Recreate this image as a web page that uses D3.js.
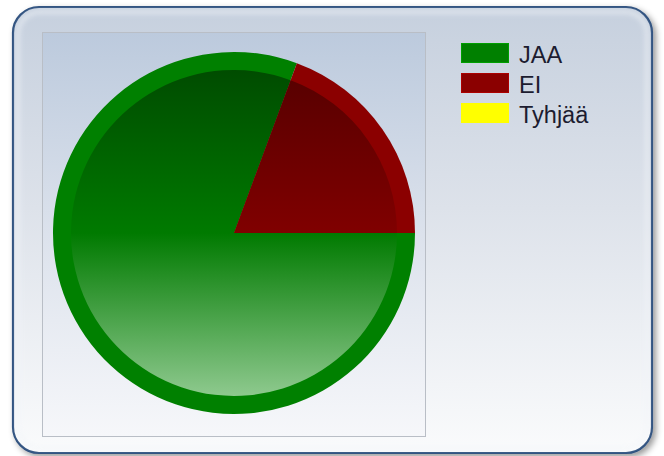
<!DOCTYPE html>
<html>
<head>
<meta charset="utf-8">
<script src="https://cdn.jsdelivr.net/npm/d3@7"></script>
<style>
  body { margin: 0; background: #fff; }
  svg { display: block; font-family: "Liberation Sans", Arial, sans-serif; }
</style>
</head>
<body>
<div id="chart"></div>
<script>
const width = 664;
const height = 456;

// Data
const categories = ["JAA", "EI", "Tyhjää"];
const votes = [25, 6, 0];
const colors = ["#008000", "#8b0000", "#ffff00"];
const topColors = ["#004c00", "#560000", "#b0b000"];
const midColors = ["#007a00", "#800000", "#e0e000"];
const bottomColors = ["#8ec98e", "#c06060", "#ffff90"];

const svg = d3
  .select("#chart")
  .append("svg")
  .attr("width", width)
  .attr("height", height);

const defs = svg.append("defs");

// panel background gradient
const panelGrad = defs
  .append("linearGradient")
  .attr("id", "panelGrad")
  .attr("x1", 0).attr("y1", 0).attr("x2", 0).attr("y2", 1);
panelGrad.append("stop").attr("offset", "0%").attr("stop-color", "#c6d0de");
panelGrad.append("stop").attr("offset", "45%").attr("stop-color", "#dde2ea");
panelGrad.append("stop").attr("offset", "100%").attr("stop-color", "#fafbfc");

const plotGrad = defs
  .append("linearGradient")
  .attr("id", "plotGrad")
  .attr("x1", 0).attr("y1", 0).attr("x2", 0).attr("y2", 1);
plotGrad.append("stop").attr("offset", "0%").attr("stop-color", "#bccadd");
plotGrad.append("stop").attr("offset", "50%").attr("stop-color", "#dce2ec");
plotGrad.append("stop").attr("offset", "100%").attr("stop-color", "#f6f7fa");

const shadow = defs.append("filter").attr("id", "shadow")
  .attr("x", "-5%").attr("y", "-5%").attr("width", "115%").attr("height", "115%");
shadow.append("feDropShadow")
  .attr("dx", 3).attr("dy", 3).attr("stdDeviation", 3)
  .attr("flood-color", "#000").attr("flood-opacity", 0.4);

const glow = defs.append("filter").attr("id", "glow");
glow.append("feGaussianBlur").attr("stdDeviation", 2.5);

// Outer panel
svg
  .append("rect")
  .attr("x", 13)
  .attr("y", 7)
  .attr("width", 639)
  .attr("height", 446)
  .attr("rx", 26)
  .attr("fill", "url(#panelGrad)")
  .attr("stroke", "#2c4e7c")
  .attr("stroke-width", 2.2)
  .attr("filter", "url(#shadow)");

// soft inner highlight along the border
svg
  .append("rect")
  .attr("x", 18)
  .attr("y", 12)
  .attr("width", 629)
  .attr("height", 436)
  .attr("rx", 22)
  .attr("fill", "none")
  .attr("stroke", "#f2f5f9")
  .attr("stroke-width", 4)
  .attr("opacity", 0.6)
  .attr("filter", "url(#glow)");

// Plot area
const plot = { x: 42, y: 32, w: 383, h: 404 };
svg
  .append("rect")
  .attr("x", plot.x + 0.5)
  .attr("y", plot.y + 0.5)
  .attr("width", plot.w)
  .attr("height", plot.h)
  .attr("fill", "url(#plotGrad)")
  .attr("stroke", "#b9bec6")
  .attr("stroke-width", 1);

// Pie
const cx = 234;
const cy = 233;
const rOuter = 181;
const rInner = 163;

categories.forEach((c, i) => {
  const g = defs
    .append("linearGradient")
    .attr("id", `slice-${i}`)
    .attr("gradientUnits", "userSpaceOnUse")
    .attr("x1", 0).attr("y1", -rInner)
    .attr("x2", 0).attr("y2", rInner);
  g.append("stop").attr("offset", "0%").attr("stop-color", topColors[i]);
  g.append("stop").attr("offset", "50%").attr("stop-color", midColors[i]);
  g.append("stop").attr("offset", "100%").attr("stop-color", bottomColors[i]);
});

const pie = d3
  .pie()
  .sort(null)
  .value((d) => d)
  .startAngle(Math.PI / 2)
  .endAngle(Math.PI / 2 + 2 * Math.PI);

const arcs = pie(votes);
const outerArc = d3.arc().innerRadius(0).outerRadius(rOuter);
const innerArc = d3.arc().innerRadius(0).outerRadius(rInner);

const pieG = svg.append("g").attr("transform", `translate(${cx},${cy})`);

// solid rim
pieG
  .selectAll(".rim")
  .data(arcs)
  .enter()
  .append("path")
  .attr("class", "rim")
  .attr("d", outerArc)
  .attr("fill", (d, i) => colors[i]);

// shaded face
pieG
  .selectAll(".face")
  .data(arcs)
  .enter()
  .append("path")
  .attr("class", "face")
  .attr("d", innerArc)
  .attr("fill", (d, i) => `url(#slice-${i})`);

// Legend
const legend = svg.append("g").attr("transform", "translate(461,43)");
const item = legend
  .selectAll(".item")
  .data(categories)
  .enter()
  .append("g")
  .attr("class", "item")
  .attr("transform", (d, i) => `translate(0,${i * 30})`);

item
  .append("rect")
  .attr("x", 0.5)
  .attr("y", 0.5)
  .attr("width", 47)
  .attr("height", 19)
  .attr("fill", (d, i) => colors[i])
  .attr("stroke", (d, i) => d3.color(colors[i]).brighter(0.6))
  .attr("stroke-width", 1);

item
  .append("text")
  .attr("x", 58)
  .attr("y", 20)
  .attr("font-size", 23.5)
  .attr("fill", "#1c1c30")
  .text((d) => d);
</script>
</body>
</html>
